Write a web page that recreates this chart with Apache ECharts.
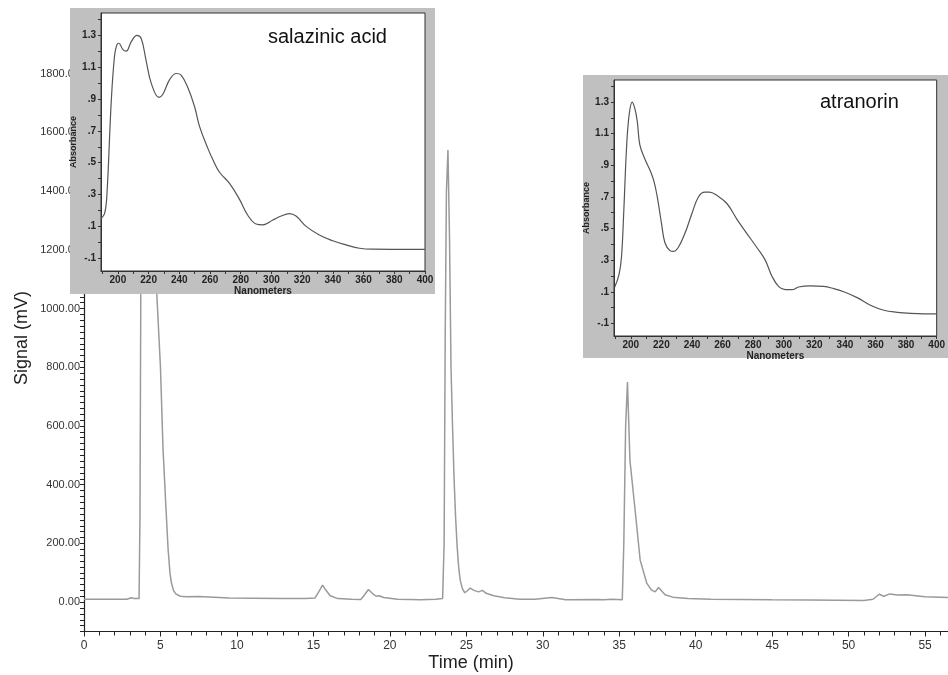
<!DOCTYPE html>
<html>
<head>
    <meta charset="utf-8">
    <title>HPLC chromatogram</title>
    <script src="https://cdn.jsdelivr.net/npm/echarts@6/dist/echarts.min.js"></script>
</head>
<body style="margin:0;background:#fff;">
<div id="main" style="width:948px;height:675px;"></div>
<script type="text/javascript">
    // chromatogram: [time (min), signal (mV)]
    var chromatogram = [
        [0, 10], [1.5, 10], [2.8, 10], [3.1, 15], [3.3, 12], [3.6, 12],
        [3.66, 290], [3.71, 1000], [3.76, 1800], [4.0, 2300], [4.3, 2000], [4.6, 1400],
        [4.76, 1050], [5.0, 800], [5.17, 520], [5.35, 330], [5.5, 180], [5.62, 100],
        [5.72, 65], [5.85, 40], [6.0, 28], [6.3, 20], [6.7, 18], [7.5, 19], [8.5, 17],
        [9.5, 14], [11, 13], [13, 12], [14.5, 12], [15.1, 14], [15.35, 35], [15.6, 58],
        [15.8, 42], [16.1, 22], [16.6, 12], [17.5, 10], [18.1, 9], [18.35, 25], [18.6, 43],
        [18.85, 30], [19.1, 20], [19.3, 22], [19.6, 16], [20.5, 10], [22, 8], [23, 10],
        [23.45, 12], [23.55, 200], [23.62, 900], [23.7, 1400], [23.8, 1540], [23.9, 1250],
        [24.0, 800], [24.1, 600], [24.2, 420], [24.3, 290], [24.4, 190], [24.5, 120],
        [24.6, 75], [24.75, 45], [24.9, 32], [25.05, 38], [25.25, 48], [25.5, 40],
        [25.8, 35], [26.05, 40], [26.3, 30], [26.8, 22], [27.5, 15], [28.5, 10], [29.5, 10],
        [30.6, 16], [31.5, 8], [33.5, 9], [34, 8], [34.5, 10], [35.2, 8], [35.3, 200],
        [35.42, 600], [35.54, 750], [35.7, 484], [36.04, 313], [36.37, 143], [36.8, 65],
        [37.1, 42], [37.35, 35], [37.57, 50], [38, 25], [38.5, 17], [39.5, 12], [41, 10],
        [45, 8], [47.5, 7], [51, 6], [51.6, 10], [52.0, 27], [52.3, 20], [52.7, 28],
        [53.2, 24], [53.8, 25], [55, 18], [56.5, 16]
    ];

    // UV spectra: [wavelength (nm), absorbance]
    var salazinicSpectrum = [
        [189, 0.15], [191.3, 0.18], [192.8, 0.29], [195.7, 0.89], [197.8, 1.17], [199.3, 1.24],
        [200.6, 1.25], [203.3, 1.21], [205.4, 1.2], [208.7, 1.26], [212.4, 1.3], [215.2, 1.28],
        [218.4, 1.14], [221.7, 1.0], [226.7, 0.91], [229.3, 0.93], [233.6, 1.02], [238, 1.06],
        [241.2, 1.05], [245.6, 0.97], [250, 0.85], [253.1, 0.73], [258.6, 0.59], [261.8, 0.52],
        [266.2, 0.44], [272.7, 0.37], [279.2, 0.27], [284.6, 0.17], [290, 0.115], [294.4, 0.11],
        [300.9, 0.14], [306.3, 0.165], [311.7, 0.18], [316, 0.165], [322.6, 0.1], [331.2, 0.046],
        [339.9, 0.01], [348.6, -0.016], [357.3, -0.037], [366, -0.043], [383, -0.044], [400, -0.044]
    ];
    var atranorinSpectrum = [
        [189.5, 0.13], [192.3, 0.21], [193.9, 0.32], [195.4, 0.61], [197.2, 1.01], [198.9, 1.22],
        [200.9, 1.3], [202.6, 1.26], [204.2, 1.18], [205.9, 1.03], [209.2, 0.94], [212.5, 0.87],
        [215.1, 0.8], [217.3, 0.7], [220.1, 0.53], [222.3, 0.41], [225.6, 0.36], [227.8, 0.355],
        [231, 0.38], [235.4, 0.47], [239.8, 0.59], [244.2, 0.7], [248.5, 0.73], [251.4, 0.73],
        [256.2, 0.71], [262.7, 0.66], [269.3, 0.56], [275.8, 0.47], [282.4, 0.38], [287.9, 0.3],
        [292.2, 0.2], [296.6, 0.134], [301, 0.113], [305.4, 0.113], [309.7, 0.13], [317.4, 0.137],
        [326.1, 0.134], [332.7, 0.12], [339.2, 0.1], [348, 0.063], [356.7, 0.015], [365.5, -0.017],
        [374.2, -0.03], [382.9, -0.037], [391.7, -0.04], [400, -0.04]
    ];

    // tick labels
    var signalLabels = [0, 200, 400, 600, 800, 1000, 1200, 1400, 1600, 1800];
    var signalTicks = [];
    for (var s = -100; s <= 2000; s += 20) signalTicks.push(s);
    var absLabels = [-0.1, 0.1, 0.3, 0.5, 0.7, 0.9, 1.1, 1.3];
    var absTicks = [-0.1, 0, 0.1, 0.2, 0.3, 0.4, 0.5, 0.6, 0.7, 0.8, 0.9, 1.0, 1.1, 1.2, 1.3, 1.4];
    var nmLabels = [200, 220, 240, 260, 280, 300, 320, 340, 360, 380, 400];
    var nmTicks = [190, 200, 210, 220, 230, 240, 250, 260, 270, 280, 290, 300, 310, 320, 330, 340, 350, 360, 370, 380, 390, 400];

    var FONT = 'Arial, "Liberation Sans", sans-serif';
    var chart = echarts.init(document.getElementById('main'));

    function absFmt(v) {
        return v.toFixed(1).replace(/^(-?)0\./, '$1.');
    }

    function insetX(idx) {
        return {
            type: 'value', gridIndex: idx, min: 189, max: 400, z: 12,
            name: 'Nanometers', nameLocation: 'middle', nameGap: 13,
            nameTextStyle: { fontFamily: FONT, fontSize: 10, fontWeight: 'bold', color: '#222' },
            axisLine: { show: true, onZero: false, lineStyle: { color: '#333', width: 1 } },
            axisTick: { show: true, length: 3, customValues: nmTicks, lineStyle: { color: '#333' } },
            axisLabel: { customValues: nmLabels, margin: 4, fontFamily: FONT, fontSize: 10, fontWeight: 'bold', color: '#222' },
            splitLine: { show: false }
        };
    }
    function insetY(idx) {
        return {
            type: 'value', gridIndex: idx, min: -0.18, max: 1.44, z: 12,
            name: 'Absorbance', nameLocation: 'middle', nameGap: 14, nameRotate: 90,
            nameTextStyle: { fontFamily: FONT, fontSize: 9, fontWeight: 'bold', color: '#222' },
            axisLine: { show: true, onZero: false, lineStyle: { color: '#333', width: 1 } },
            axisTick: { show: true, length: 3, customValues: absTicks, lineStyle: { color: '#333' } },
            axisLabel: { customValues: absLabels, formatter: absFmt, margin: 5, fontFamily: FONT, fontSize: 10, fontWeight: 'bold', color: '#222' },
            splitLine: { show: false }
        };
    }

    var option = {
        backgroundColor: '#fff',
        animation: false,
        grid: [
            { left: 84, right: 0, top: 15, bottom: 43.5 },
            { left: 101, right: 523, top: 13, bottom: 404, show: true, z: 11, backgroundColor: '#fff', borderColor: '#333', borderWidth: 1 },
            { left: 614, right: 11, top: 80, bottom: 339, show: true, z: 11, backgroundColor: '#fff', borderColor: '#333', borderWidth: 1 }
        ],
        xAxis: [
            {
                type: 'value', gridIndex: 0, min: 0, max: 56.5, interval: 5,
                axisLine: { show: true, onZero: false, lineStyle: { color: '#222', width: 1.2 } },
                axisTick: { show: true, length: 5, lineStyle: { color: '#222' } },
                minorTick: { show: true, splitNumber: 5, length: 4, lineStyle: { color: '#222' } },
                axisLabel: { margin: 8, fontFamily: FONT, fontSize: 12, color: '#333',
                    showMaxLabel: false },
                splitLine: { show: false }
            },
            insetX(1), insetX(2)
        ],
        yAxis: [
            {
                type: 'value', gridIndex: 0, min: -100, max: 2000,
                axisLine: { show: true, onZero: false, lineStyle: { color: '#222', width: 1.2 } },
                axisTick: { show: true, length: 4, customValues: signalTicks, lineStyle: { color: '#222' } },
                axisLabel: { customValues: signalLabels, margin: 4, fontFamily: FONT, fontSize: 11, color: '#333',
                    formatter: function (v) { return v.toFixed(2); } },
                splitLine: { show: false }
            },
            insetY(1), insetY(2)
        ],
        graphic: [
            { type: 'rect', z: 10, shape: { x: 70, y: 8, width: 365, height: 286 }, style: { fill: '#c0c0c0' } },
            { type: 'rect', z: 10, shape: { x: 583, y: 75, width: 365, height: 283 }, style: { fill: '#c0c0c0' } },
            { type: 'text', z: 20, x: 268, y: 37, style: { text: 'salazinic acid', font: '20px ' + FONT, fill: '#111', textVerticalAlign: 'middle' } },
            { type: 'text', z: 20, x: 820, y: 102, style: { text: 'atranorin', font: '20px ' + FONT, fill: '#111', textVerticalAlign: 'middle' } },
            { type: 'text', z: 5, x: 22, y: 338, rotation: Math.PI / 2, style: { text: 'Signal (mV)', font: '18px ' + FONT, fill: '#222', textAlign: 'center', textVerticalAlign: 'middle' } },
            { type: 'text', z: 5, x: 471, y: 663, style: { text: 'Time (min)', font: '18px ' + FONT, fill: '#222', textAlign: 'center', textVerticalAlign: 'middle' } }
        ],
        series: [
            {
                type: 'line', xAxisIndex: 0, yAxisIndex: 0, z: 2, data: chromatogram,
                symbol: 'none', lineStyle: { color: '#9a9a9a', width: 1.5 }
            },
            {
                type: 'line', xAxisIndex: 1, yAxisIndex: 1, z: 13, data: salazinicSpectrum,
                symbol: 'none', smooth: 0.4, lineStyle: { color: '#555', width: 1.2 }
            },
            {
                type: 'line', xAxisIndex: 2, yAxisIndex: 2, z: 13, data: atranorinSpectrum,
                symbol: 'none', smooth: 0.4, lineStyle: { color: '#555', width: 1.2 }
            }
        ]
    };
    chart.setOption(option);
</script>
</body>
</html>
